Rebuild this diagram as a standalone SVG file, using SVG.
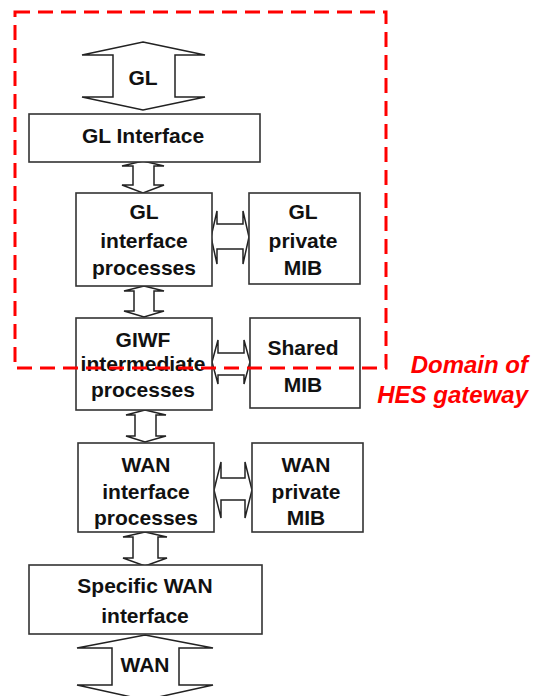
<svg xmlns="http://www.w3.org/2000/svg" width="534" height="696" viewBox="0 0 534 696">
<style>
.box{fill:#fff;stroke:#333;stroke-width:1.6}
.arr{fill:#fff;stroke:#222;stroke-width:1.5;stroke-linejoin:miter}
.t{font-family:"Liberation Sans",Arial,sans-serif;font-weight:bold;font-size:21px;fill:#111;text-anchor:middle}
.dom{font-family:"Liberation Sans",Arial,sans-serif;font-weight:bold;font-style:italic;font-size:24px;fill:#ff0000;text-anchor:end}
.dash{fill:none;stroke:#ff0000;stroke-width:3;stroke-dasharray:15 8}
</style>
<rect width="534" height="696" fill="#fff"/>
<g id="connectors">
<path class="arr" d="M143,42 L205,55 L175,55 L175,97 L205,97 L143,110 L82,97 L113,97 L113,55 L82,55 Z"/>
<path class="arr" d="M143,161 L164,166 L154,166 L154,185 L164,185 L143,193 L122,185 L133,185 L133,166 L122,166 Z"/>
<path class="arr" d="M144,286 L164,291 L154,291 L154,311 L164,311 L144,317 L124,311 L134,311 L134,291 L124,291 Z"/>
<path class="arr" d="M145,410 L166,415 L156,415 L156,436 L166,436 L145,442 L126,436 L135,436 L135,415 L126,415 Z"/>
<path class="arr" d="M145,532 L167,537 L158,537 L158,558 L167,558 L145,566 L123,558 L133,558 L133,537 L123,537 Z"/>
<path class="arr" d="M145,635 L213,648 L179,648 L179,685 L213,685 L145,700 L77,685 L112,685 L112,648 L77,648 Z"/>
<path class="arr" d="M211,237 L217,211 L217,224 L243,224 L243,211 L249,237 L243,264 L243,249 L217,249 L217,264 Z"/>
<path class="arr" d="M212,362 L218,340 L218,353 L244,353 L244,340 L250,362 L244,384 L244,375 L218,375 L218,384 Z"/>
<path class="arr" d="M214,490 L221,462 L221,478 L245,478 L245,462 L252,490 L245,518 L245,500 L221,500 L221,518 Z"/>
</g>
<g id="label-gl"><text class="t" x="143" y="85">GL</text></g>
<g id="gl-interface">
<rect class="box" x="29" y="114" width="231" height="48"/>
<text class="t" x="143" y="143">GL Interface</text>
</g>
<g id="gl-interface-processes">
<rect class="box" x="76" y="193" width="136" height="93"/>
<text class="t" x="144" y="219">GL</text>
<text class="t" x="144" y="248">interface</text>
<text class="t" x="144" y="275">processes</text>
</g>
<g id="gl-private-mib">
<rect class="box" x="249" y="193" width="111" height="91"/>
<text class="t" x="303" y="219">GL</text>
<text class="t" x="303" y="248">private</text>
<text class="t" x="303" y="275">MIB</text>
</g>
<g id="giwf">
<rect class="box" x="76" y="318" width="136" height="92"/>
<text class="t" x="143" y="347">GIWF</text>
<text class="t" x="143" y="371">intermediate</text>
<text class="t" x="143" y="397">processes</text>
</g>
<g id="shared-mib">
<rect class="box" x="250" y="318" width="110" height="90"/>
<text class="t" x="303" y="355">Shared</text>
<text class="t" x="303" y="392">MIB</text>
</g>
<g id="wan-interface-processes">
<rect class="box" x="78" y="443" width="136" height="89"/>
<text class="t" x="146" y="472">WAN</text>
<text class="t" x="146" y="499">interface</text>
<text class="t" x="146" y="525">processes</text>
</g>
<g id="wan-private-mib">
<rect class="box" x="252" y="443" width="111" height="89"/>
<text class="t" x="306" y="472">WAN</text>
<text class="t" x="306" y="499">private</text>
<text class="t" x="306" y="525">MIB</text>
</g>
<g id="specific-wan-interface">
<rect class="box" x="29" y="565" width="233" height="69"/>
<text class="t" x="145" y="593">Specific WAN</text>
<text class="t" x="145" y="623">interface</text>
</g>
<g id="label-wan"><text class="t" x="145" y="672">WAN</text></g>
<g id="domain">
<rect class="dash" x="15" y="12" width="371" height="356"/>
<text class="dom" x="528" y="373">Domain of</text>
<text class="dom" x="528" y="403">HES gateway</text>
</g>
</svg>
